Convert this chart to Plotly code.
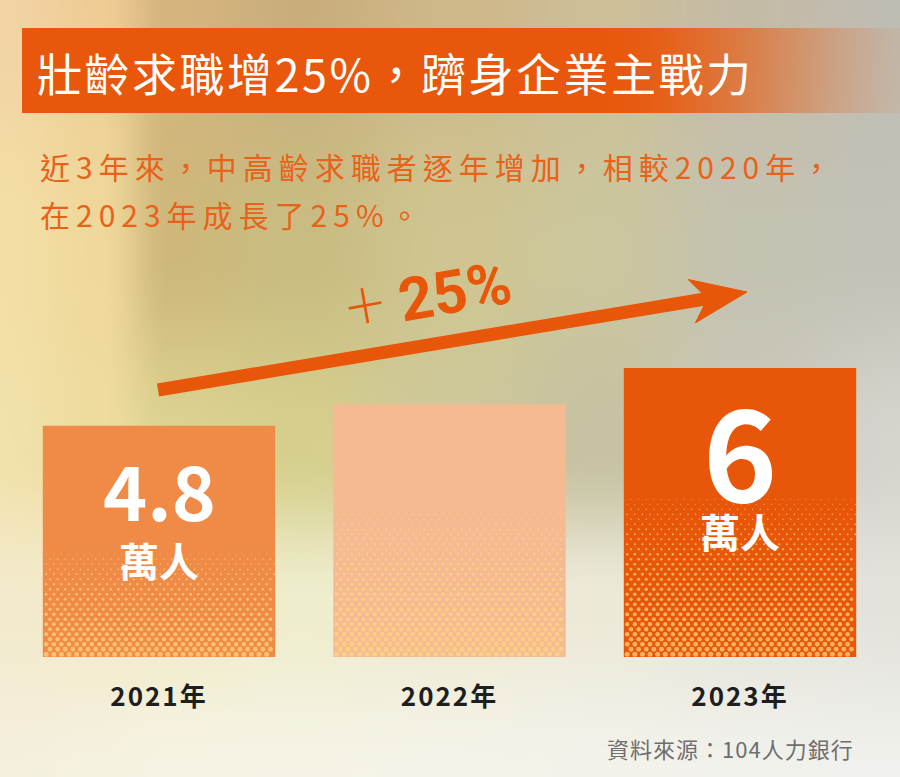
import base64
import struct
import zlib

import numpy as np
import plotly.graph_objects as go

# ---------------- data ----------------
categories = ["2021年", "2022年", "2023年"]
values = [4.8, 5.25, 6.0]            # 萬人
show_value = [True, False, True]
unit_label = "萬人"
title_text = "壯齡求職增25%，躋身企業主戰力"
subtitle_lines = ["近3年來，中高齡求職者逐年增加，相較2020年，", "在2023年成長了25%。"]
growth_label = "25%"
source_text = "資料來源：104人力銀行"

# ---------------- style ----------------
W, H = 900, 777
ORANGE = "#E8560A"
BAR_COLORS = ["#F08A47", "#F6BA93", "#E8560A"]
DOT_COLOR = "#FFD97F"
HALFTONE_FRAC = [0.455, 0.61, 0.55]
NUM_FONT = [75, 0, 126]
NUM_SHIFT = [-63, 0, -79]
UNIT_SHIFT = [-134, 0, -163]
PX_PER_UNIT = 289 / 6.0
PX_PER_CAT = 290.5
BAR_WIDTH = 0.8
BASE_PX = 657
CJK = "Noto Sans CJK TC"

# axis geometry
x_left_px = 159 - PX_PER_CAT / 2
x_dom = [x_left_px / W, (x_left_px + 3 * PX_PER_CAT) / W]
Y_MAX = 8.0
y_dom = [(H - BASE_PX) / H, (H - BASE_PX + Y_MAX * PX_PER_UNIT) / H]

# ---------------- background image ----------------
BG_XS = [0, 100, 170, 300, 450, 600, 750, 900]
BG_YS = [0, 250, 450, 600, 777]
BG_ROWS = [
    ["#F2D3A4", "#EFCC94", "#D6B47E", "#C9AE7C", "#CEB788", "#CDBE98", "#C4BBA7", "#BFBCB3"],
    ["#F3DFA6", "#EFD89A", "#CDB87A", "#C9BC82", "#CFC590", "#CBC69D", "#C4C2B1", "#C3C2B8"],
    ["#F1E1AA", "#EEDC9E", "#DDD390", "#D6CF8C", "#CDC89A", "#C6C2A2", "#CBC8BB", "#D6D4CC"],
    ["#F3EACC", "#F2EAC8", "#F0EBC6", "#EEEDCC", "#EDEAD2", "#ECE9D8", "#E6E4DA", "#E3E2DB"],
    ["#F4EFDE", "#F5F1E0", "#F6F3E4", "#F6F3E6", "#F5F3E8", "#F3F2EA", "#F1F1EC", "#F0F0EC"],
]


def hex2rgb(h):
    return [int(h[i:i + 2], 16) for i in (1, 3, 5)]


def smooth_interp(coords, n):
    c = np.array(coords, float)
    p = np.arange(n, dtype=float)
    idx = np.clip(np.searchsorted(c, p, side="right") - 1, 0, len(c) - 2)
    t = (p - c[idx]) / (c[idx + 1] - c[idx])
    t = np.clip(t, 0, 1)
    t = t * t * (3 - 2 * t)
    return idx, t


grid = np.array([[hex2rgb(c) for c in row] for row in BG_ROWS], float)
ix, tx = smooth_interp(BG_XS, W)
rows = grid[:, ix, :] * (1 - tx)[None, :, None] + grid[:, ix + 1, :] * tx[None, :, None]
iy, ty = smooth_interp(BG_YS, H)
img = rows[iy] * (1 - ty)[:, None, None] + rows[iy + 1] * ty[:, None, None]

# title banner with fading right end
bx = np.arange(W, dtype=float)
tt = np.clip((bx - 590) / 370, 0, 1)
alpha = 1 - tt * tt * (3 - 2 * tt)
alpha[bx < 22] = 0
banner = np.array(hex2rgb("#E8570C"), float)
img[28:113] = img[28:113] * (1 - alpha[None, :, None]) + banner[None, None, :] * alpha[None, :, None]

arr = np.clip(np.round(img), 0, 255).astype(np.int16)
up = arr.copy()
up[1:] = (arr[1:] - arr[:-1]) % 256
raw = np.concatenate([np.full((H, 1), 2, np.uint8), up.astype(np.uint8).reshape(H, W * 3)], axis=1).tobytes()


def chunk(tag, data):
    c = struct.pack(">I", len(data)) + tag + data
    return c + struct.pack(">I", zlib.crc32(tag + data) & 0xFFFFFFFF)


png = (b"\x89PNG\r\n\x1a\n" + chunk(b"IHDR", struct.pack(">IIBBBBB", W, H, 8, 2, 0, 0, 0))
       + chunk(b"IDAT", zlib.compress(raw, 9)) + chunk(b"IEND", b""))
bg_uri = "data:image/png;base64," + base64.b64encode(png).decode()

# ---------------- figure ----------------
fig = go.Figure()
xpos = list(range(len(categories)))
fig.add_trace(go.Bar(x=xpos, y=values, width=BAR_WIDTH, marker=dict(color=BAR_COLORS, line=dict(width=0)),
                     hoverinfo="skip"))

# halftone dots inside each bar
COL_PX, ROW_PX = 7.6, 5.0
DOT_MIN, DOT_MAX = 1.0, 5.1
dx = COL_PX / PX_PER_CAT
dy = ROW_PX / PX_PER_UNIT
hx, hy, hs = [], [], []
for i, v in enumerate(values):
    top = v * HALFTONE_FRAC[i]
    half = BAR_WIDTH / 2
    r = 0
    yv = dy * 0.55
    while yv < top:
        t = 1 - yv / top
        size = DOT_MIN + (DOT_MAX - DOT_MIN) * t
        rad = size / 2 / PX_PER_CAT
        off = dx / 2 if r % 2 else 0.0
        cols = i - half + dx * 0.45 + off + dx * np.arange(40)
        cols = cols[(cols + rad < i + half) & (cols - rad > i - half)]
        hx.extend(cols.tolist())
        hy.extend([yv] * len(cols))
        hs.extend([size] * len(cols))
        r += 1
        yv += dy
fig.add_trace(go.Scatter(x=hx, y=hy, mode="markers", hoverinfo="skip",
                         marker=dict(size=hs, color=DOT_COLOR, line=dict(width=0))))

annotations = []
for i, v in enumerate(values):
    if not show_value[i]:
        continue
    annotations.append(dict(x=i, y=v, xref="x", yref="y", text=f"{v:g}", showarrow=False,
                            yanchor="middle", yshift=NUM_SHIFT[i],
                            font=dict(family=CJK, size=NUM_FONT[i], color="white", weight="bold")))
    annotations.append(dict(x=i, y=v, xref="x", yref="y", text=unit_label, showarrow=False,
                            yanchor="middle", yshift=UNIT_SHIFT[i],
                            font=dict(family=CJK, size=40, color="white", weight="bold")))

annotations.append(dict(x=35 / W, y=1 - 72 / H, xref="paper", yref="paper", xanchor="left", yanchor="middle",
                        showarrow=False,
                        text=f"<span style='letter-spacing:2.5px'>{title_text}</span>",
                        font=dict(family=CJK, size=45, color="white")))
for line, cy in zip(subtitle_lines, [166, 214]):
    annotations.append(dict(x=38 / W, y=1 - cy / H, xref="paper", yref="paper", xanchor="left", yanchor="middle",
                            showarrow=False,
                            text=f"<span style='letter-spacing:6px'>{line}</span>",
                            font=dict(family=CJK, size=30, color="#E8621A")))
annotations.append(dict(x=428 / W, y=1 - 294 / H, xref="paper", yref="paper", xanchor="center", yanchor="middle",
                        showarrow=False, textangle=-10,
                        text=f"<span style='font-weight:200;font-size:68px'>+</span> {growth_label}",
                        font=dict(family="Roboto", size=60, color=ORANGE, weight="bold")))
annotations.append(dict(x=856 / W, y=1 - 748 / H, xref="paper", yref="paper", xanchor="right", yanchor="middle",
                        showarrow=False,
                        text=f"<span style='letter-spacing:1px'>{source_text}</span>",
                        font=dict(family=CJK, size=22, color="#6E6E6E")))

# growth arrow (pixel geometry -> paper)
tail = np.array([158.0, 390.0])
tip = np.array([747.0, 292.0])
u = (tip - tail) / np.linalg.norm(tip - tail)
n = np.array([u[1], -u[0]])
HEAD_L, HEAD_W, NOTCH = 56.0, 22.0, 16.0
p_top = tip - HEAD_L * u + HEAD_W * n
p_bot = tip - HEAD_L * u - HEAD_W * n
p_notch = tip - (HEAD_L - NOTCH) * u


def P(p):
    return p[0] / W, 1 - p[1] / H


shapes = []
ex, ey = P(tail)
nx_, ny_ = P(p_notch + 2 * u)
shapes.append(dict(type="line", xref="paper", yref="paper", x0=ex, y0=ey, x1=nx_, y1=ny_,
                   line=dict(color=ORANGE, width=13)))
path = "M {},{} L {},{} L {},{} L {},{} Z".format(*P(tip), *P(p_top), *P(p_notch), *P(p_bot))
shapes.append(dict(type="path", xref="paper", yref="paper", path=path, fillcolor=ORANGE,
                   line=dict(color=ORANGE, width=1)))

fig.update_layout(
    width=W, height=H, margin=dict(l=0, r=0, t=0, b=0),
    paper_bgcolor="#F2EEE0", plot_bgcolor="rgba(0,0,0,0)",
    showlegend=False,
    images=[dict(source=bg_uri, xref="paper", yref="paper", x=0, y=1, sizex=1, sizey=1,
                 xanchor="left", yanchor="top", sizing="stretch", layer="below")],
    xaxis=dict(domain=x_dom, range=[-0.5, 2.5], tickvals=xpos,
               ticktext=[f"<span style='letter-spacing:2px'>{c}</span>" for c in categories],
               tickfont=dict(family=CJK, size=26, color="#1E1E1E", weight="bold"),
               showgrid=False, zeroline=False, showline=False, ticks="", ticklabelstandoff=22,
               fixedrange=True),
    yaxis=dict(domain=y_dom, range=[0, Y_MAX], visible=False, fixedrange=True),
    annotations=annotations,
    shapes=shapes,
)

fig.write_html("out.html")
